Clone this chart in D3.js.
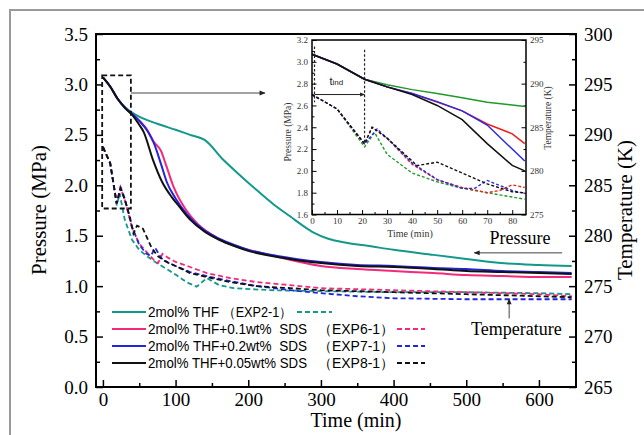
<!DOCTYPE html>
<html>
<head>
<meta charset="utf-8">
<script src="https://cdn.jsdelivr.net/npm/d3@7"></script>
<style>
body { margin: 0; background: #fff; }
text { font-family: "Liberation Serif", "Times New Roman", serif; }
.leg { font-family: "Liberation Sans", Arial, sans-serif; }
</style>
</head>
<body>
<svg id="chart" width="644" height="435"></svg>
<script>
// ---- main chart: pressure (MPa) vs time (min) ----
var thfP = [[0,3.07],[10,2.98],[20,2.86],[33,2.76],[50,2.68],[75,2.61],[100,2.55],[120,2.50],[140,2.45],[166,2.25],[190,2.09],[212,1.95],[235,1.81],[258,1.69],[275,1.60],[290,1.53],[310,1.47],[335,1.43],[364,1.40],[400,1.36],[455,1.31],[500,1.27],[547,1.23],[600,1.21],[645,1.20]];
var sds01P = [[0,3.07],[10,2.98],[20,2.86],[30,2.77],[40,2.71],[50,2.64],[60,2.56],[70,2.43],[80,2.34],[86,2.22],[97,1.99],[115,1.75],[130,1.62],[150,1.51],[170,1.43],[200,1.36],[240,1.29],[300,1.20],[350,1.17],[400,1.15],[455,1.13],[500,1.11],[550,1.10],[600,1.09],[645,1.09]];
var sds02P = [[0,3.07],[10,2.98],[20,2.86],[30,2.77],[40,2.71],[50,2.64],[62,2.53],[70,2.42],[80,2.21],[88,2.03],[100,1.87],[116,1.71],[140,1.55],[160,1.47],[180,1.41],[200,1.36],[240,1.30],[300,1.24],[350,1.21],[400,1.20],[455,1.18],[500,1.17],[550,1.15],[600,1.14],[645,1.13]];
var sds005P = [[0,3.07],[10,2.98],[20,2.86],[30,2.77],[40,2.70],[50,2.60],[56,2.53],[69,2.25],[81,2.04],[95,1.88],[105,1.79],[120,1.66],[140,1.54],[160,1.46],[180,1.40],[200,1.35],[240,1.29],[300,1.23],[350,1.20],[400,1.19],[455,1.17],[500,1.15],[550,1.14],[600,1.13],[645,1.12]];

// temperature (K)
var thfT = [[0,288.8],[10,287.2],[19,283.0],[23,284.2],[30,281.6],[40,279.6],[50,278.6],[60,278.0],[74,277.3],[90,276.6],[101,276.1],[115,275.4],[129,274.95],[143,275.8],[160,275.1],[180,274.8],[230,274.6],[300,274.5],[400,274.4],[500,274.4],[600,274.3],[645,274.2]];
var sds01T = [[0,288.8],[10,287.2],[19,283.2],[24,284.8],[30,283.6],[40,280.8],[50,279.2],[60,278.4],[70,277.6],[76,277.3],[82,278.2],[90,277.8],[100,277.4],[120,276.9],[143,276.3],[175,275.8],[212,275.4],[258,275.1],[300,274.8],[400,274.6],[500,274.4],[600,274.2],[645,274.0]];
var sds02T = [[0,288.8],[10,287.2],[19,283.2],[25,284.7],[30,283.7],[40,280.9],[50,279.1],[60,278.2],[66,278.0],[72,278.8],[80,277.8],[90,277.3],[100,277.0],[120,276.4],[143,276.0],[175,275.5],[212,275.0],[258,274.6],[300,274.3],[350,274.0],[400,273.8],[500,273.7],[600,273.7],[645,273.7]];
var sds005T = [[0,288.8],[10,287.2],[19,283.2],[24,284.7],[30,283.6],[37,281.9],[42,280.2],[47,281.0],[55,280.7],[67,278.8],[75,278.0],[85,277.5],[100,277.0],[120,276.3],[143,275.9],[175,275.4],[212,275.0],[258,274.8],[300,274.6],[400,274.4],[500,274.2],[600,274.0],[645,273.9]];

// ---- inset (first 85 min) ----
var insetThfP = [[0,3.07],[10,2.98],[21,2.84],[30,2.79],[40,2.745],[50,2.71],[60,2.67],[70,2.63],[80,2.605],[85,2.59]];
var insetSds01P = [[0,3.07],[10,2.98],[21,2.84],[30,2.77],[40,2.71],[50,2.63],[60,2.55],[70,2.43],[80,2.34],[85,2.25]];
var insetSds02P = [[0,3.07],[10,2.98],[21,2.84],[30,2.77],[40,2.71],[50,2.635],[60,2.55],[70,2.42],[80,2.20],[85,2.09]];
var insetSds005P = [[0,3.07],[10,2.98],[21,2.84],[30,2.77],[40,2.70],[50,2.60],[60,2.47],[70,2.25],[80,2.05],[85,2.00]];
var insetThfT = [[0,288.75],[10,287.1],[21,282.75],[25,284.4],[30,281.9],[40,279.75],[50,278.75],[60,278.0],[70,277.5],[80,277.0],[85,276.75]];
var insetSds01T = [[0,288.75],[10,287.1],[21,283.1],[24,285.0],[30,283.75],[40,280.75],[50,279.0],[60,278.1],[70,277.5],[75,277.75],[80,278.4],[85,278.1]];
var insetSds02T = [[0,288.75],[10,287.1],[21,283.1],[26,284.8],[30,283.75],[40,280.9],[50,279.0],[60,278.0],[65,278.0],[70,278.9],[80,277.75],[85,277.4]];
var insetSds005T = [[0,288.75],[10,287.1],[21,283.1],[24,285.0],[30,283.75],[42,280.6],[50,281.0],[60,279.75],[70,278.5],[80,277.6],[85,277.5]];

var legendNames = ["2mol% THF", "2mol% THF+0.1wt%\u00a0\u00a0SDS", "2mol% THF+0.2wt%\u00a0\u00a0SDS", "2mol% THF+0.05wt% SDS"];
var legendExp = ["（EXP2-1）", "（EXP6-1）", "（EXP7-1）", "（EXP8-1）"];
var mainColors = ["#12998a", "#f2297c", "#2424dc", "#111111"];
var insetColors = ["#1f9a2a", "#ec2121", "#2a2ae6", "#111111"];

var svg = d3.select("#chart");

// outer grey border of the figure
svg.append("rect").attr("x", 10).attr("y", 10).attr("width", 700).attr("height", 500)
    .attr("fill", "none").attr("stroke", "#9a9a9a").attr("stroke-width", 2);

var m = {left: 96, right: 576, top: 34, bottom: 387};
var x = d3.scaleLinear().domain([-9.5, 651]).range([m.left, m.right]);
var y = d3.scaleLinear().domain([0, 3.5]).range([m.bottom, m.top]);
var yT = d3.scaleLinear().domain([265, 300]).range([m.bottom, m.top]);

function drawAxis(g, axis, pos, labelSize) {
    var a = g.append("g").attr("transform", pos).call(axis);
    a.select(".domain").remove();
    a.selectAll("line").attr("stroke", "#000").attr("stroke-width", 1.5);
    a.selectAll("text").attr("fill", "#000").style("font-size", labelSize + "px")
        .style("font-family", "'Liberation Serif', serif");
    return a;
}

// minor ticks
drawAxis(svg, d3.axisBottom(x).tickValues(d3.range(50, 650, 100)).tickSize(-4).tickFormat(""), "translate(0," + m.bottom + ")", 19);
drawAxis(svg, d3.axisLeft(y).tickValues(d3.range(0.25, 3.5, 0.5)).tickSize(-4).tickFormat(""), "translate(" + m.left + ",0)", 19);
drawAxis(svg, d3.axisRight(yT).tickValues(d3.range(267.5, 300, 5)).tickSize(-4).tickFormat(""), "translate(" + m.right + ",0)", 19);
// major ticks
drawAxis(svg, d3.axisBottom(x).tickValues(d3.range(0, 700, 100)).tickSizeInner(-7).tickSizeOuter(0).tickPadding(6), "translate(0," + m.bottom + ")", 19);
drawAxis(svg, d3.axisLeft(y).tickValues(d3.range(0, 3.6, 0.5)).tickFormat(d3.format(".1f")).tickSizeInner(-7).tickSizeOuter(0).tickPadding(8), "translate(" + m.left + ",0)", 19);
drawAxis(svg, d3.axisRight(yT).tickValues(d3.range(265, 305, 5)).tickSizeInner(-7).tickSizeOuter(0).tickPadding(8), "translate(" + m.right + ",0)", 19);

svg.append("rect").attr("x", m.left).attr("y", m.top).attr("width", m.right - m.left).attr("height", m.bottom - m.top)
    .attr("fill", "none").attr("stroke", "#000").attr("stroke-width", 2);

// axis titles
svg.append("text").attr("transform", "translate(46,210) rotate(-90)").attr("text-anchor", "middle")
    .style("font-size", "21px").text("Pressure (MPa)");
svg.append("text").attr("transform", "translate(632,210) rotate(-90)").attr("text-anchor", "middle")
    .style("font-size", "21px").text("Temperature (K)");
svg.append("text").attr("x", 356).attr("y", 427).attr("text-anchor", "middle")
    .style("font-size", "20px").text("Time (min)");

// curves
var lineP = d3.line().x(function(d){ return x(d[0]); }).y(function(d){ return y(d[1]); }).curve(d3.curveMonotoneX);
var lineT = d3.line().x(function(d){ return x(d[0]); }).y(function(d){ return yT(d[1]); });

var tempSeries = [thfT, sds01T, sds02T, sds005T];
var presSeries = [thfP, sds01P, sds02P, sds005P];

svg.append("g").selectAll("path").data(tempSeries).enter().append("path")
    .attr("d", lineT).attr("fill", "none")
    .attr("stroke", function(d, i){ return mainColors[i]; })
    .attr("stroke-width", 1.8).attr("stroke-dasharray", "5,3");

svg.append("g").selectAll("path").data(presSeries).enter().append("path")
    .attr("d", lineP).attr("fill", "none")
    .attr("stroke", function(d, i){ return mainColors[i]; })
    .attr("stroke-width", 2);

// dashed zoom box and arrow to inset
svg.append("rect").attr("x", x(-1)).attr("y", y(3.09)).attr("width", x(38.5) - x(-1)).attr("height", y(1.77) - y(3.09))
    .attr("fill", "none").attr("stroke", "#111").attr("stroke-width", 1.8).attr("stroke-dasharray", "5,3");

var defs = svg.append("defs");
defs.append("marker").attr("id", "ah").attr("viewBox", "0 0 10 10").attr("refX", 9).attr("refY", 5)
    .attr("markerWidth", 8).attr("markerHeight", 6).attr("orient", "auto").attr("markerUnits", "userSpaceOnUse")
    .append("path").attr("d", "M0,1 L10,5 L0,9 z").attr("fill", "#222");
defs.append("marker").attr("id", "ahs").attr("viewBox", "0 0 10 10").attr("refX", 9).attr("refY", 5)
    .attr("markerWidth", 6).attr("markerHeight", 5).attr("orient", "auto").attr("markerUnits", "userSpaceOnUse")
    .append("path").attr("d", "M0,1 L10,5 L0,9 z").attr("fill", "#222");

svg.append("line").attr("x1", x(38.5)).attr("y1", y(2.915)).attr("x2", x(223)).attr("y2", y(2.915))
    .attr("stroke", "#444").attr("stroke-width", 1).attr("marker-end", "url(#ah)");

// Pressure / Temperature annotations
svg.append("text").attr("x", x(574)).attr("y", y(1.42)).attr("text-anchor", "middle").style("font-size", "18px").text("Pressure");
svg.append("line").attr("x1", x(632)).attr("y1", y(1.33)).attr("x2", x(511)).attr("y2", y(1.33))
    .attr("stroke", "#444").attr("stroke-width", 1).attr("marker-end", "url(#ah)");
svg.append("text").attr("x", x(569)).attr("y", yT(271.6) + 15).attr("text-anchor", "middle").style("font-size", "18px").text("Temperature");
svg.append("line").attr("x1", x(559)).attr("y1", yT(271.8)).attr("x2", x(559)).attr("y2", yT(273.75))
    .attr("stroke", "#444").attr("stroke-width", 1).attr("marker-end", "url(#ah)");

// legend
var legRows = [312, 329, 346, 363];
var legNameLen = [71, 159, 159, 159];
var legDashX = [[297, 332], [397, 425], [397, 425], [397, 425]];
var legExpX = [[223, 69], [318, 76], [318, 76], [318, 76]];
var leg = svg.append("g").selectAll("g").data(legendNames).enter().append("g");
leg.append("line").attr("x1", 112).attr("x2", 146)
    .attr("y1", function(d, i){ return legRows[i]; }).attr("y2", function(d, i){ return legRows[i]; })
    .attr("stroke", function(d, i){ return mainColors[i]; }).attr("stroke-width", 2);
leg.append("text").attr("class", "leg").attr("x", 148).attr("y", function(d, i){ return legRows[i] + 5; })
    .attr("textLength", function(d, i){ return legNameLen[i]; }).attr("lengthAdjust", "spacingAndGlyphs")
    .style("font-size", "14px").text(function(d){ return d; });
leg.append("text").attr("class", "leg").attr("x", function(d, i){ return legExpX[i][0]; }).attr("y", function(d, i){ return legRows[i] + 5; })
    .attr("textLength", function(d, i){ return legExpX[i][1]; }).attr("lengthAdjust", "spacingAndGlyphs")
    .style("font-size", "14px").text(function(d, i){ return legendExp[i]; });
leg.append("line").attr("x1", function(d, i){ return legDashX[i][0]; }).attr("x2", function(d, i){ return legDashX[i][1]; })
    .attr("y1", function(d, i){ return legRows[i]; }).attr("y2", function(d, i){ return legRows[i]; })
    .attr("stroke", function(d, i){ return mainColors[i]; }).attr("stroke-width", 2).attr("stroke-dasharray", "5,3");

// ---- inset ----
var im = {left: 312, right: 526, top: 40, bottom: 214.5};
var xi = d3.scaleLinear().domain([0, 85.5]).range([im.left, im.right]);
var yi = d3.scaleLinear().domain([1.6, 3.2]).range([im.bottom, im.top]);
var yiT = d3.scaleLinear().domain([275, 295]).range([im.bottom, im.top]);

svg.append("rect").attr("x", im.left).attr("y", im.top).attr("width", im.right - im.left).attr("height", im.bottom - im.top)
    .attr("fill", "#fff");

function drawSmallAxis(axis, pos) {
    var a = svg.append("g").attr("transform", pos).call(axis);
    a.select(".domain").remove();
    a.selectAll("line").attr("stroke", "#000").attr("stroke-width", 1);
    a.selectAll("text").attr("fill", "#333").style("font-size", "9px").style("font-family", "'Liberation Serif', serif");
}
drawSmallAxis(d3.axisBottom(xi).tickValues(d3.range(5, 85, 10)).tickSize(-2.5).tickFormat(""), "translate(0," + im.bottom + ")");
drawSmallAxis(d3.axisLeft(yi).tickValues(d3.range(1.7, 3.2, 0.2)).tickSize(-2.5).tickFormat(""), "translate(" + im.left + ",0)");
drawSmallAxis(d3.axisRight(yiT).tickValues(d3.range(277.5, 295, 5)).tickSize(-2.5).tickFormat(""), "translate(" + im.right + ",0)");
drawSmallAxis(d3.axisBottom(xi).tickValues(d3.range(0, 90, 10)).tickSizeInner(-4.5).tickSizeOuter(0).tickPadding(3), "translate(0," + im.bottom + ")");
drawSmallAxis(d3.axisLeft(yi).tickValues(d3.range(1.6, 3.3, 0.2)).tickFormat(d3.format(".1f")).tickSizeInner(-4.5).tickSizeOuter(0).tickPadding(4), "translate(" + im.left + ",0)");
drawSmallAxis(d3.axisRight(yiT).tickValues(d3.range(275, 300, 5)).tickSizeInner(-4.5).tickSizeOuter(0).tickPadding(4), "translate(" + im.right + ",0)");

svg.append("text").attr("transform", "translate(291,132) rotate(-90)").attr("text-anchor", "middle")
    .style("font-size", "9.5px").attr("fill", "#333").text("Pressure (MPa)");
svg.append("text").attr("transform", "translate(551,118) rotate(-90)").attr("text-anchor", "middle")
    .style("font-size", "9.5px").attr("fill", "#333").text("Temperature (K)");
svg.append("text").attr("x", 410).attr("y", 237).attr("text-anchor", "middle")
    .style("font-size", "10px").attr("fill", "#333").text("Time (min)");

var ilineP = d3.line().x(function(d){ return xi(d[0]); }).y(function(d){ return yi(d[1]); });
var ilineT = d3.line().x(function(d){ return xi(d[0]); }).y(function(d){ return yiT(d[1]); });

svg.append("g").selectAll("path").data([insetThfT, insetSds01T, insetSds02T, insetSds005T]).enter().append("path")
    .attr("d", ilineT).attr("fill", "none")
    .attr("stroke", function(d, i){ return insetColors[i]; })
    .attr("stroke-width", 1.4).attr("stroke-dasharray", "3,2");
svg.append("g").selectAll("path").data([insetThfP, insetSds01P, insetSds02P, insetSds005P]).enter().append("path")
    .attr("d", ilineP).attr("fill", "none")
    .attr("stroke", function(d, i){ return insetColors[i]; })
    .attr("stroke-width", 1.5);

// induction time markers
svg.append("line").attr("x1", xi(1)).attr("x2", xi(1)).attr("y1", yi(3.14)).attr("y2", yi(2.63))
    .attr("stroke", "#222").attr("stroke-width", 1.2).attr("stroke-dasharray", "2.5,2");
svg.append("line").attr("x1", xi(21)).attr("x2", xi(21)).attr("y1", yi(3.11)).attr("y2", yi(2.24))
    .attr("stroke", "#222").attr("stroke-width", 1.2).attr("stroke-dasharray", "2.5,2");
svg.append("line").attr("x1", xi(1)).attr("x2", xi(21)).attr("y1", yi(2.70)).attr("y2", yi(2.70))
    .attr("stroke", "#222").attr("stroke-width", 1).attr("marker-end", "url(#ahs)");
var tind = svg.append("text").attr("class", "leg").attr("x", xi(7)).attr("y", yi(2.79)).style("font-size", "11px").attr("fill", "#222");
tind.append("tspan").text("t");
tind.append("tspan").style("font-size", "8px").text("ind");

svg.append("rect").attr("x", im.left).attr("y", im.top).attr("width", im.right - im.left).attr("height", im.bottom - im.top)
    .attr("fill", "none").attr("stroke", "#000").attr("stroke-width", 1.5);
</script>
</body>
</html>
